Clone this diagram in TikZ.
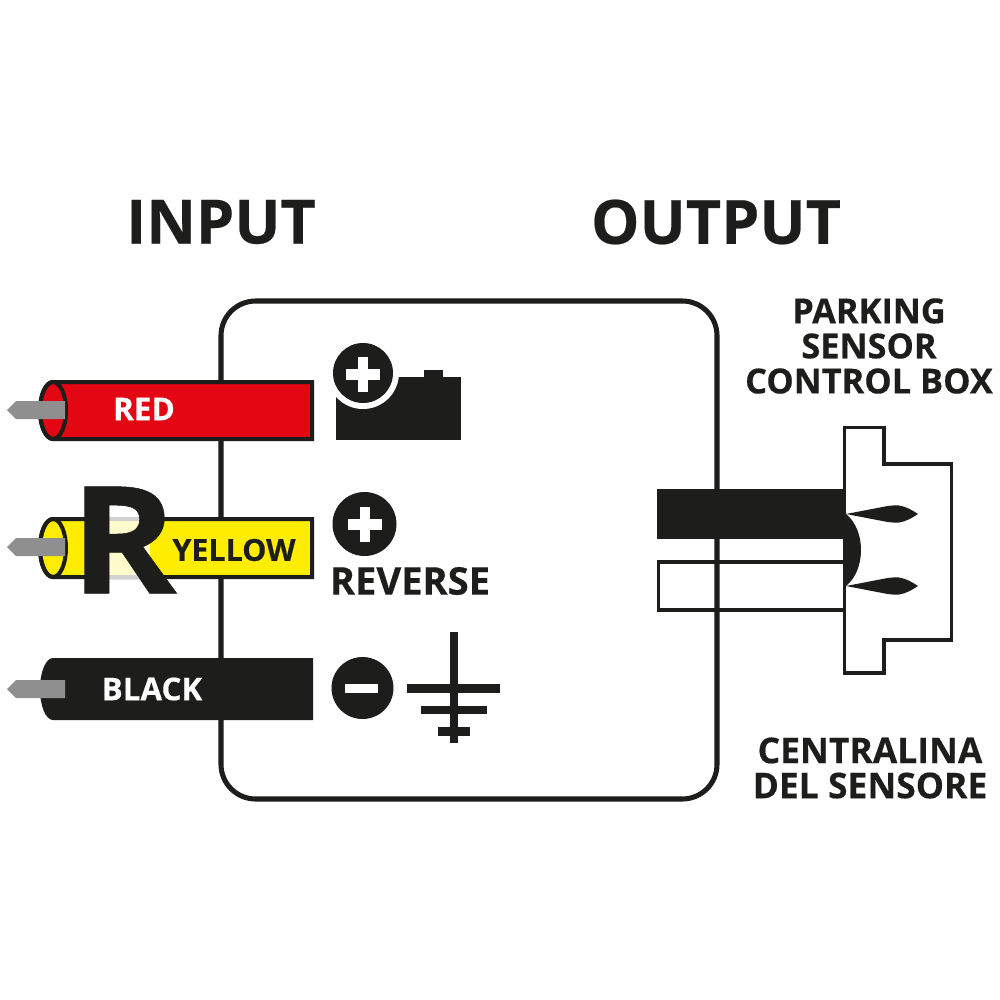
\documentclass[tikz,border=0pt]{standalone}
\usepackage{fontspec}
\setmainfont{Open Sans}[BoldFont={Open Sans Bold},BoldFeatures={FakeBold=0.35}]
\definecolor{ink}{HTML}{1D1D1B}
\definecolor{cablered}{HTML}{E30613}
\definecolor{cableyellow}{HTML}{FFED00}
\definecolor{pin}{HTML}{8F8F8F}
\tikzset{
  lbl/.style={inner sep=0pt,font=\bfseries\fontsize{#1}{#1}\selectfont,text=ink,align=center},
  lbl/.default=27,
  multi/.style={inner sep=0pt,font=\bfseries\fontsize{#1}{26.3}\selectfont,text=ink,align=center},
  cable/.style={draw=ink,line width=3pt,line join=miter},
  pinshape/.style={fill=pin,draw=none}
}
\newcommand{\pinat}[1]{\fill[pinshape] (7,#1) -- (16,#1-9) -- (65,#1-9) -- (65,#1+9) -- (16,#1+9) -- cycle;}
\newcommand{\bladeat}[1]{\fill[ink] (846,#1) -- (885,#1-7.5) .. controls (890,#1-8.5) and (895,#1-8.8) .. (899,#1-8.5) .. controls (906,#1-7.5) and (912,#1-4) .. (918,#1) .. controls (912,#1+4) and (906,#1+7.5) .. (899,#1+8.5) .. controls (895,#1+8.8) and (890,#1+8.5) .. (885,#1+7.5) -- cycle;}
\begin{document}
\begin{tikzpicture}[x=0.75pt,y=-0.75pt]
\useasboundingbox (0,0) rectangle (1000,1000);
\fill[white] (0,0) rectangle (1000,1000);
% main box
\draw[ink,line width=3.8pt,rounded corners=26pt] (221,301) rectangle (717,799);
% red cable
\draw[cable,fill=cablered] (53,382) -- (312,382) -- (312,439) -- (53,439) arc[start angle=90,end angle=270,x radius=13,y radius=28.5] -- cycle;
\draw[cable] (53,410.5) ellipse[x radius=13,y radius=28.5];
\pinat{410}
\node[lbl=23.6,text=white] (red) at (144,409) {RED};
% yellow cable
\draw[cable,fill=cableyellow] (53,519) -- (312,519) -- (312,577) -- (53,577) arc[start angle=90,end angle=270,x radius=13,y radius=29] -- cycle;
\draw[cable] (53,548) ellipse[x radius=13,y radius=29];
\pinat{547}
\fill[white,opacity=.8] (100,517) rectangle (150,579);
\node[lbl=112,xscale=1.08] (bigr) at (123.5,540) {R};
\node[lbl=22.8] (yellow) at (234,550) {YELLOW};
% black cable
\fill[ink] (53,658) -- (313,658) -- (313,720) -- (53,720) arc[start angle=90,end angle=270,x radius=13,y radius=31] -- cycle;
\pinat{689}
\node[lbl=23.5,text=white] (black) at (152,689) {BLACK};
% battery
\fill[ink] (336,377) rectangle (461,440);
\fill[ink] (424,370) rectangle (443,378);
\fill[white] (363,373) circle[radius=36];
\fill[ink] (363,373) circle[radius=30];
\fill[white] (358,357) rectangle (368,392);
\fill[white] (346,368.5) rectangle (380,379.5);
% reverse
\fill[ink] (364.5,524) circle[radius=32];
\fill[white] (359.5,507) rectangle (369.5,542);
\fill[white] (347.5,519) rectangle (381.5,530);
\node[lbl=28.6] (reverse) at (410,581) {REVERSE};
% ground
\fill[ink] (362.5,688) circle[radius=31];
\fill[white] (345,684) rectangle (378,693);
\fill[ink] (450,632) rectangle (458,743);
\fill[ink] (407,684) rectangle (500,693);
\fill[ink] (421,706) rectangle (487,714);
\fill[ink] (438,727) rectangle (470,736);
% output wires
\fill[ink] (657,489) rectangle (845,539);
\draw[ink,line width=2.6pt] (845,562) -- (658.5,562) -- (658.5,610) -- (845,610);
% connector
\draw[ink,line width=2.8pt] (844.5,427.5) -- (884,427.5) -- (884,464) -- (951.5,464) -- (951.5,640) -- (884,640) -- (884,673) -- (844.5,673) -- cycle;
\fill[ink] (846,514) .. controls (866,530) and (866,570) .. (846,586) -- cycle;
\bladeat{514}
\bladeat{586}
% texts
\node[lbl=45.8] (input) at (221,222) {INPUT};
\node[lbl=45.8] (output) at (716,222) {OUTPUT};
\node[multi=25.8] (pscb) at (869,346) {PARKING\\SENSOR\\CONTROL BOX};
\node[multi=26.6] (cds) at (870,768) {CENTRALINA\\DEL SENSORE};
\end{tikzpicture}
\end{document}
